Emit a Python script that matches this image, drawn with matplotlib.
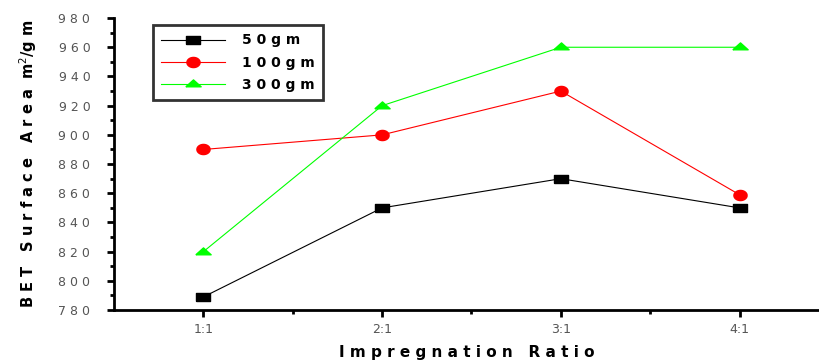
import matplotlib.pyplot as plt
import numpy as np

ratios = ['1:1', '2:1', '3:1', '4:1']
gm50 = [789, 850, 870, 850]
gm100 = [890, 900, 930, 859]
gm300 = [820, 920, 960, 960]
yticks = [780, 800, 820, 840, 860, 880, 900, 920, 940, 960, 980]

# markers in the original are stretched sideways
sq = [(-1.4, -0.85), (1.4, -0.85), (1.4, 0.85), (-1.4, 0.85), (-1.4, -0.85)]
t = np.linspace(0, 2 * np.pi, 40)
ell = list(zip(1.3 * np.cos(t), 1.0 * np.sin(t)))
tri = [(-1.5, -0.45), (1.5, -0.45), (0, 0.9), (-1.5, -0.45)]

fig = plt.figure(figsize=(8.2, 3.61), dpi=100)
ax = fig.add_axes([0.139, 0.141, 0.861, 0.809])

x = np.arange(1, len(ratios) + 1)
ax.plot(x, gm50, color='black', lw=0.8, marker=sq, ms=9.5, mec='black', label='5 0 g m')
ax.plot(x, gm100, color='red', lw=0.8, marker=ell, ms=9.5, mec='red', label='1 0 0 g m')
ax.plot(x, gm300, color='#00ff00', lw=0.8, marker=tri, ms=11, mec='#00ff00', label='3 0 0 g m')

ax.set_xlim(0.5, 4.45)
ax.set_ylim(780, 980)
ax.set_xticks(x)
ax.set_xticklabels(ratios)
ax.set_xticks([1.5, 2.5, 3.5], minor=True)
ax.set_yticks(yticks)
ax.set_yticklabels([' '.join(str(v)) for v in yticks])
ax.set_yticks(np.arange(790, 980, 20), minor=True)

for s in ['top', 'right']:
    ax.spines[s].set_visible(False)
for s in ['left', 'bottom']:
    ax.spines[s].set_linewidth(2)
ax.tick_params(axis='both', which='major', direction='out', length=5, width=2,
               labelsize=9, labelcolor='#555555')
ax.tick_params(axis='y', which='major', pad=12)
ax.tick_params(axis='x', which='major', pad=4)
ax.tick_params(axis='both', which='minor', direction='out', length=3, width=2)

ax.set_xlabel('I m p r e g n a t i o n   R a t i o', fontsize=11, fontweight='bold', labelpad=7)
ax.set_ylabel('B E T   S u r f a c e   A r e a  m$^2$/g m', fontsize=10.5, fontweight='bold', labelpad=14)

leg = ax.legend(loc='upper left', bbox_to_anchor=(0.055, 0.976), frameon=True,
                fancybox=False, edgecolor='black', handlelength=4.6, borderpad=0.6,
                borderaxespad=0, labelspacing=0.6, handletextpad=1.2,
                prop={'weight': 'bold', 'size': 10})
leg.get_frame().set_linewidth(2)

fig.savefig('out.png', dpi=100)
